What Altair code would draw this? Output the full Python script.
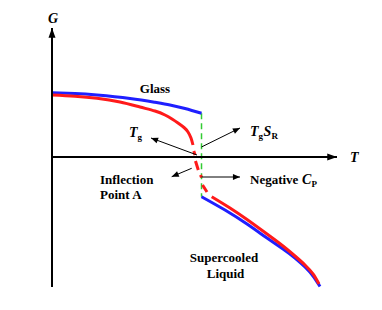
import altair as alt
import pandas as pd
import numpy as np

# ---------------- data (schematic units: T along x, G along y) ----------------
blue_glass_T = [0.000, 0.807, 1.579, 2.737, 3.614, 4.140, 4.667, 5.246]
blue_glass_G = [2.256, 2.228, 2.175, 2.053, 1.919, 1.825, 1.702, 1.533]

red_glass_T = [0.000, 0.807, 1.579, 2.386, 3.088, 3.614, 3.965, 4.211, 4.421, 4.632, 4.772, 4.877, 4.947]
red_glass_G = [2.175, 2.130, 2.060, 1.930, 1.754, 1.614, 1.474, 1.333, 1.193, 1.035, 0.877, 0.667, 0.421]

# dashed red transition (start/end of each dash)
red_dash_T0 = [4.975, 5.035, 5.211, 5.281]
red_dash_G0 = [0.211, -0.140, -0.632, -0.982]
red_dash_T1 = [5.018, 5.133, 5.246, 5.439]
red_dash_G1 = [0.070, -0.456, -0.719, -1.228]

blue_liquid_T = [5.246, 6.070, 6.842, 7.544, 8.105, 8.526, 8.877, 9.158, 9.404]
blue_liquid_G = [-1.393, -1.860, -2.351, -2.842, -3.228, -3.544, -3.860, -4.175, -4.544]

red_liquid_T = [5.604, 6.246, 6.842, 7.544, 8.105, 8.526, 8.877, 9.158, 9.368]
red_liquid_G = [-1.393, -1.789, -2.193, -2.702, -3.123, -3.474, -3.789, -4.105, -4.456]

# glass transition line
tg_T = 5.246
tg_G = [1.533, -1.393]

# axes
axis_T_max = 10.0
axis_G_min, axis_G_max = -4.561, 4.526

# annotation arrows: start -> end
arrow_names = ["Tg", "TgSR", "Inflection", "NegCp"]
arrow_T0 = [5.088, 5.246, 4.902, 5.246]
arrow_G0 = [0.070, 0.351, -0.396, -0.702]
arrow_T1 = [3.474, 6.596, 4.200, 6.596]
arrow_G1 = [0.667, 1.018, -0.691, -0.702]

# labels
bold_left_text = ["Inflection", "Point A", "Negative"]
bold_left_T = [1.684, 1.684, 6.947]
bold_left_G = [-0.947, -1.474, -0.947]

bold_center_text = ["Glass", "Supercooled", "Liquid"]
bold_center_T = [3.614, 6.035, 6.088]
bold_center_G = [2.246, -3.684, -4.246]

ital_text = ["T", "T", "S", "C", "G", "T"]
ital_T = [2.702, 6.947, 7.421, 8.772, 0.035, 10.456]
ital_G = [0.702, 0.737, 0.737, -0.947, 4.702, -0.175]
ital_align = ["left", "left", "left", "left", "center", "left"]

sub_text = ["g", "g", "R", "P"]
sub_T = [3.000, 7.246, 7.702, 9.105]
sub_G = [0.596, 0.632, 0.632, -1.053]

# ---------------- scales ----------------
PX = 28.5  # pixels per unit
W, H = 366, 294
x_dom = [(8 - 52) / PX, (8 + W - 52) / PX]
y_dom = [(157 - 8 - H) / PX, (157 - 8) / PX]
xs = alt.Scale(domain=x_dom, nice=False, zero=False)
ys = alt.Scale(domain=y_dom, nice=False, zero=False)

def X(f="T"):
    return alt.X(f + ":Q", scale=xs, axis=None)

def Y(f="G"):
    return alt.Y(f + ":Q", scale=ys, axis=None)

# ---------------- curves ----------------
rows = []
def add(name, Ts, Gs, color):
    for i, (t, g) in enumerate(zip(Ts, Gs)):
        rows.append(dict(series=name, T=t, G=g, order=i, color=color))

BLUE = "#1f1fff"
RED = "#ff1a1a"
add("blue_glass", blue_glass_T, blue_glass_G, BLUE)
add("blue_liquid", blue_liquid_T, blue_liquid_G, BLUE)
add("red_liquid", red_liquid_T, red_liquid_G, RED)
add("red_glass", red_glass_T, red_glass_G, RED)
curves = pd.DataFrame(rows)

curve_layer = alt.Chart(curves).mark_line(strokeWidth=3, interpolate="natural").encode(
    x=X(), y=Y(), detail="series:N", order="order:Q",
    color=alt.Color("color:N", scale=None))

dash_df = pd.DataFrame(dict(T=red_dash_T0, G=red_dash_G0, T2=red_dash_T1, G2=red_dash_G1))
dash_layer = alt.Chart(dash_df).mark_rule(strokeWidth=3, color=RED).encode(
    x=X(), y=Y(), x2="T2:Q", y2="G2:Q")

green_df = pd.DataFrame(dict(T=[tg_T], G=[tg_G[0]], T2=[tg_T], G2=[tg_G[1]]))
green_layer = alt.Chart(green_df).mark_rule(strokeWidth=1.5, color="#33cc33", strokeDash=[6, 4]).encode(
    x=X(), y=Y(), x2="T2:Q", y2="G2:Q")

# ---------------- axes with arrowheads ----------------
axes_df = pd.DataFrame(dict(T=[0.0, 0.0], G=[axis_G_min, 0.0],
                            T2=[0.0, axis_T_max], G2=[axis_G_max, 0.0]))
axes_layer = alt.Chart(axes_df).mark_rule(strokeWidth=2, color="black").encode(
    x=X(), y=Y(), x2="T2:Q", y2="G2:Q")

HEAD = "M0,0L-0.36,1L0.36,1Z"
axes_heads = pd.DataFrame(dict(T=[0.0, axis_T_max], G=[axis_G_max, 0.0], ang=[0.0, 90.0]))
axes_head_layer = alt.Chart(axes_heads).mark_point(shape=HEAD, filled=True, color="black",
                                                   size=380, opacity=1).encode(
    x=X(), y=Y(), angle=alt.Angle("ang:Q", scale=None))

arr = pd.DataFrame(dict(name=arrow_names, T=arrow_T0, G=arrow_G0, T2=arrow_T1, G2=arrow_G1))
arr["ang"] = np.mod(np.degrees(np.arctan2(arr["T2"] - arr["T"], arr["G2"] - arr["G"])), 360)
arrow_layer = alt.Chart(arr).mark_rule(strokeWidth=1, color="black").encode(
    x=X(), y=Y(), x2="T2:Q", y2="G2:Q")
arrow_head_layer = alt.Chart(arr).mark_point(shape="M0,0L-0.42,1L0.42,1Z", filled=True, color="black",
                                             size=200, opacity=1).encode(
    x=X("T2"), y=Y("G2"), angle=alt.Angle("ang:Q", scale=None))

# ---------------- text ----------------
FONT = "Liberation Serif"

def text_layer(df, size, italic=False, align="left"):
    kw = dict(font=FONT, fontWeight="bold", fontSize=size, align=align,
              baseline="alphabetic", color="black")
    if italic:
        kw["fontStyle"] = "italic"
    return alt.Chart(df).mark_text(**kw).encode(x=X(), y=Y(), text="label:N")

bl = pd.DataFrame(dict(label=bold_left_text, T=bold_left_T, G=bold_left_G))
bc = pd.DataFrame(dict(label=bold_center_text, T=bold_center_T, G=bold_center_G))
it = pd.DataFrame(dict(label=ital_text, T=ital_T, G=ital_G, al=ital_align))
sb = pd.DataFrame(dict(label=sub_text, T=sub_T, G=sub_G))

texts = [
    text_layer(bl, 13),
    text_layer(bc, 13, align="center"),
    text_layer(it[it.al == "left"], 14, italic=True),
    text_layer(it[it.al == "center"], 14, italic=True, align="center"),
    text_layer(sb, 9),
]

chart = alt.layer(
    green_layer, curve_layer, dash_layer, axes_layer, axes_head_layer,
    arrow_layer, arrow_head_layer, *texts
).properties(
    width=W, height=H, padding=0, autosize=alt.AutoSizeParams(type="none")
).configure_view(stroke=None)

chart.save("out.html", embed_options={"renderer": "svg", "actions": False})
